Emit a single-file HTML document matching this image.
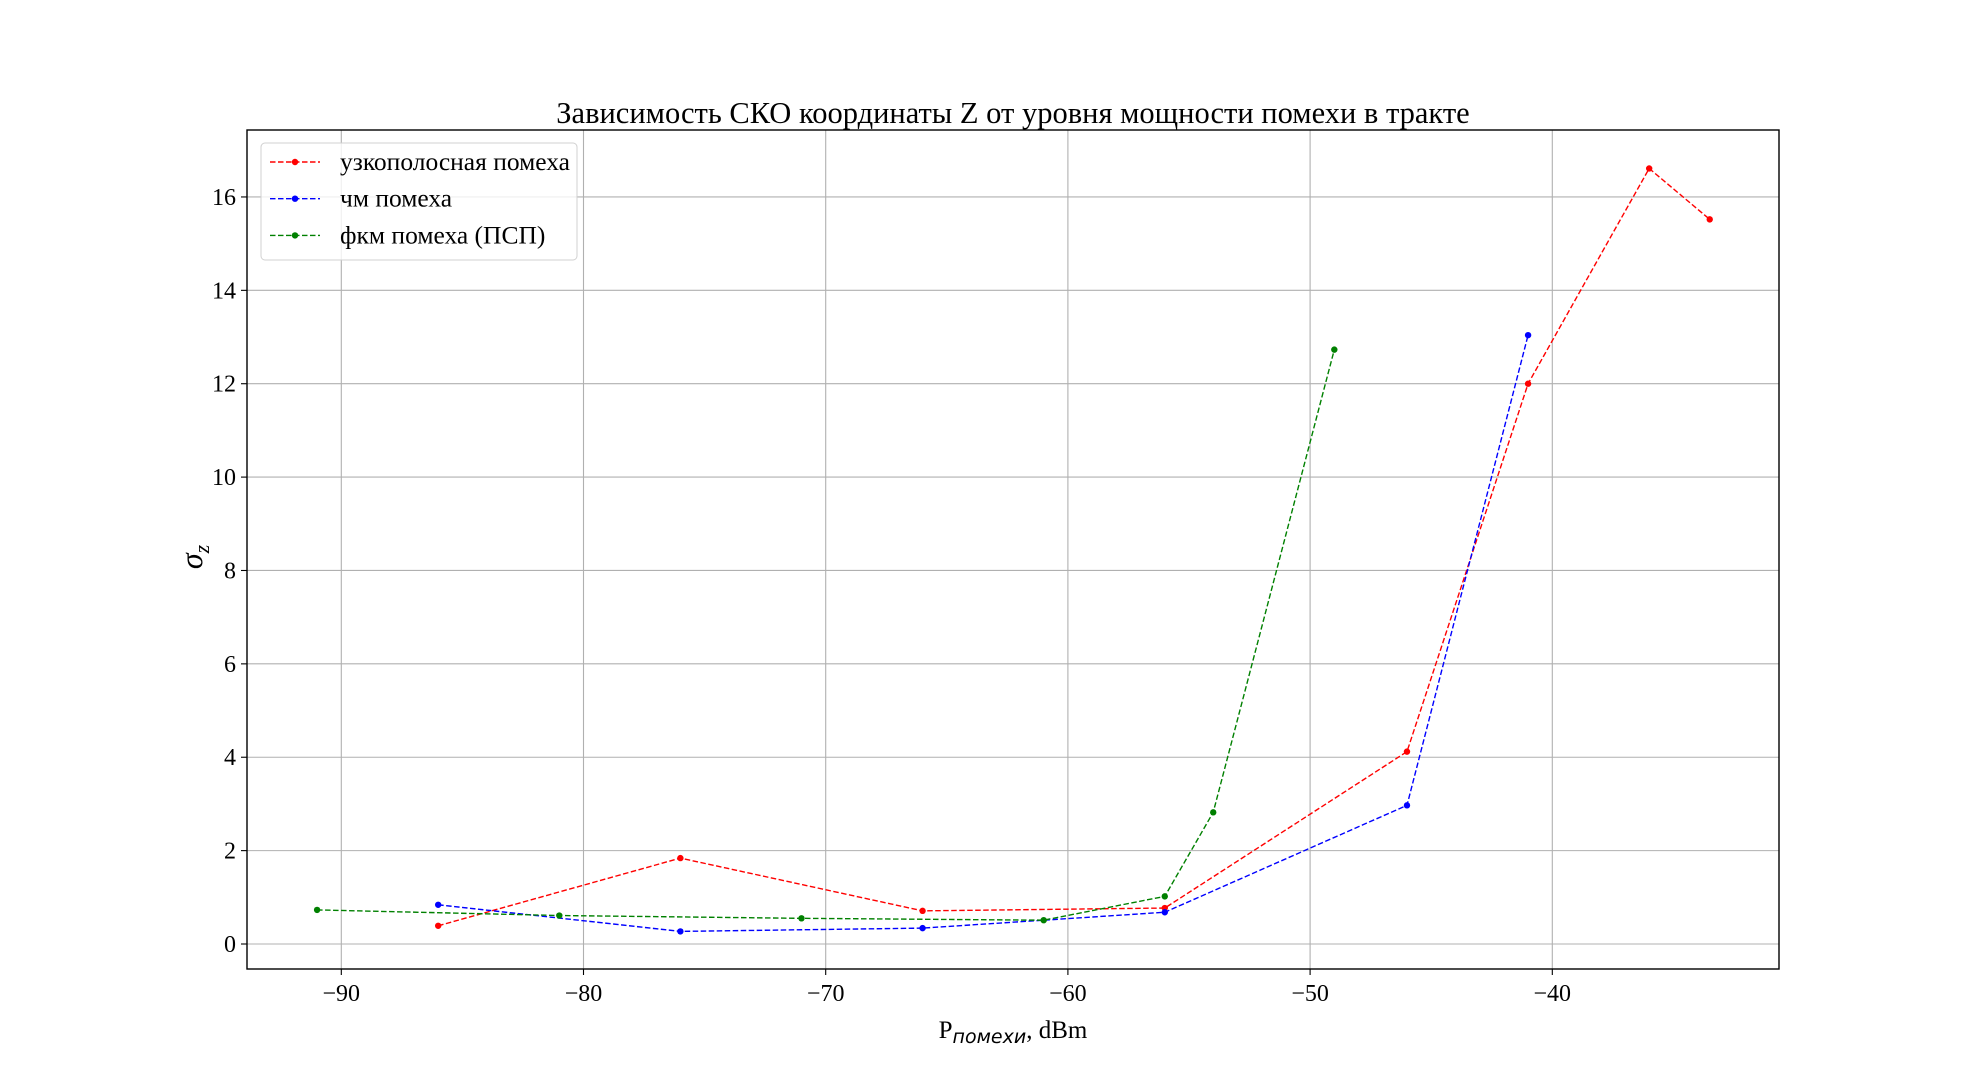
<!DOCTYPE html>
<html><head><meta charset="utf-8"><style>html,body{margin:0;padding:0;background:#fff}svg{display:block}text{font-family:"Liberation Serif","DejaVu Serif",serif;fill:#000}</style></head>
<body>
<svg id="chart" width="1977" height="1089" xmlns="http://www.w3.org/2000/svg"></svg>
<script>
const xTicks=[-90,-80,-70,-60,-50,-40];
const yTicks=[0,2,4,6,8,10,12,14,16];
const seriesNames=["узкополосная помеха","чм помеха","фкм помеха (ПСП)"];
const seriesColors=["#ff0000","#0000ff","#008000"];
const redX=[-86,-76,-66,-56,-46,-41,-36,-33.5];
const redY=[0.39,1.84,0.71,0.77,4.12,12.0,16.61,15.52];
const blueX=[-86,-76,-66,-56,-46,-41];
const blueY=[0.84,0.27,0.34,0.68,2.97,13.04];
const greenX=[-91,-81,-71,-61,-56,-54,-49];
const greenY=[0.73,0.61,0.55,0.51,1.02,2.82,12.73];

const L=247,R=1779,T=130,B=969;
const xs=v=>341.3+(v+90)*24.22;
const ys=v=>944-v*46.69;
const svg=document.getElementById('chart');
const NS='http://www.w3.org/2000/svg';
function mk(tag,a,parent){const e=document.createElementNS(NS,tag);for(const k in a)e.setAttribute(k,a[k]);(parent||svg).appendChild(e);return e;}

const grid=mk('g',{});


xTicks.forEach(t=>{const x=xs(t);
 const g=mk('line',{x1:x,x2:x,y1:T,y2:B,stroke:'#b0b0b0','stroke-width':1.1},grid);
 
 
 const tk=mk('line',{x1:x,x2:x,y1:B,y2:B+6,stroke:'#000','stroke-width':1.1});
 
 
 const lb=mk('text',{x:x,y:B+32,'text-anchor':'middle','font-size':24});
 lb.textContent='\u2212'+Math.abs(t);
 
 
});
yTicks.forEach(t=>{const y=ys(t);
 const g=mk('line',{x1:L,x2:R,y1:y,y2:y,stroke:'#b0b0b0','stroke-width':1.1},grid);
 
 
 const tk=mk('line',{x1:L-6,x2:L,y1:y,y2:y,stroke:'#000','stroke-width':1.1});
 
 
 const lb=mk('text',{x:L-11,y:y+8,'text-anchor':'end','font-size':24});
 lb.textContent=t;
 
 
});

const data=[[redX,redY],[blueX,blueY],[greenX,greenY]];
const sn=['series-narrowband','series-fm','series-psk'];
data.forEach((d,i)=>{
 const pts=d[0].map((x,j)=>xs(x)+','+ys(d[1][j])).join(' ');
 const pl=mk('polyline',{points:pts,fill:'none',stroke:seriesColors[i],'stroke-width':1.4,'stroke-dasharray':'5.5,2.5'});
 
 
 d[0].forEach((x,j)=>{
  const c=mk('circle',{cx:xs(x),cy:ys(d[1][j]),r:3.2,fill:seriesColors[i]});
  
  
 });
});

const frame=mk('rect',{x:L,y:T,width:R-L,height:B-T,fill:'none',stroke:'#000','stroke-width':1.4});



const leg=mk('g',{});


mk('rect',{x:261,y:143,width:316,height:117,rx:4,fill:'#fff','fill-opacity':0.8,stroke:'#d0d0d0','stroke-width':1},leg);
seriesNames.forEach((n,i)=>{const y=162+i*36.7;
 const e=mk('g',{},leg);
 
 
 mk('line',{x1:270,x2:320,y1:y,y2:y,stroke:seriesColors[i],'stroke-width':1.4,'stroke-dasharray':'5.5,2.5'},e);
 mk('circle',{cx:295,cy:y,r:3.2,fill:seriesColors[i]},e);
 const t=mk('text',{x:340,y:y+8,'font-size':25.5},e);t.textContent=n;
});

const title=mk('text',{x:1013,y:123,'text-anchor':'middle','font-size':30.5});
title.textContent='Зависимость СКО координаты Z от уровня мощности помехи в тракте';



const xl=mk('text',{x:1013,y:1038,'text-anchor':'middle','font-size':25});
xl.innerHTML='P<tspan font-style="italic" font-family="DejaVu Sans, sans-serif" font-size="19" dy="5">помехи</tspan><tspan dy="-5">, dBm</tspan>';



const yl=mk('text',{x:0,y:0,'text-anchor':'middle','font-size':32,'font-style':'italic',transform:'translate(202,557) rotate(-90)'});
yl.innerHTML='σ<tspan font-size="22" dy="7">z</tspan>';


</script>
</body></html>
